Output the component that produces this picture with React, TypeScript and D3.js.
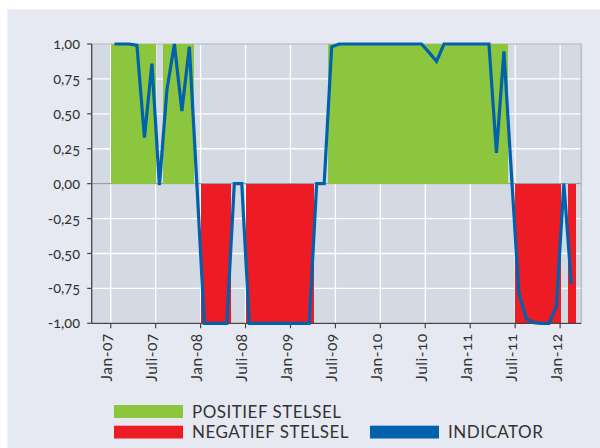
import React from "react";
import * as d3 from "d3";

// Monthly categories Jan-07 .. Feb-12
const months: string[] = [
  "Jan-07","Feb-07","Mrt-07","Apr-07","Mei-07","Jun-07","Jul-07","Aug-07","Sep-07","Okt-07","Nov-07","Dec-07",
  "Jan-08","Feb-08","Mrt-08","Apr-08","Mei-08","Jun-08","Jul-08","Aug-08","Sep-08","Okt-08","Nov-08","Dec-08",
  "Jan-09","Feb-09","Mrt-09","Apr-09","Mei-09","Jun-09","Jul-09","Aug-09","Sep-09","Okt-09","Nov-09","Dec-09",
  "Jan-10","Feb-10","Mrt-10","Apr-10","Mei-10","Jun-10","Jul-10","Aug-10","Sep-10","Okt-10","Nov-10","Dec-10",
  "Jan-11","Feb-11","Mrt-11","Apr-11","Mei-11","Jun-11","Jul-11","Aug-11","Sep-11","Okt-11","Nov-11","Dec-11",
  "Jan-12","Feb-12",
];

const N = null;
// POSITIEF STELSEL (bar value 1 when in positive regime)
const positief: (number | null)[] = [
  1,1,1,1,1,1,N,1,1,1,1,N,
  N,N,N,N,N,N,N,N,N,N,N,N,
  N,N,N,N,N,1,1,1,1,1,1,1,
  1,1,1,1,1,1,1,1,1,1,1,1,
  1,1,1,1,1,N,N,N,N,N,N,N,
  N,N,
];
// NEGATIEF STELSEL (bar value -1 when in negative regime)
const negatief: (number | null)[] = [
  N,N,N,N,N,N,N,N,N,N,N,N,
  -1,-1,-1,-1,N,N,-1,-1,-1,-1,-1,-1,
  -1,-1,-1,N,N,N,N,N,N,N,N,N,
  N,N,N,N,N,N,N,N,N,N,N,N,
  N,N,N,N,N,N,-1,-1,-1,-1,-1,-1,
  N,-1,
];
// INDICATOR
const indicator: number[] = [
  1.0,1.0,1.0,0.99,0.33,0.86,-0.01,0.67,1.0,0.52,0.98,0.0,
  -1.0,-1.0,-1.0,-1.0,0.0,0.0,-1.0,-1.0,-1.0,-1.0,-1.0,-1.0,
  -1.0,-1.0,-1.0,0.0,0.0,0.98,1.0,1.0,1.0,1.0,1.0,1.0,
  1.0,1.0,1.0,1.0,1.0,1.0,0.94,0.876,1.0,1.0,1.0,1.0,
  1.0,1.0,1.0,0.22,0.947,0.07,-0.79,-0.967,-0.995,-1.0,-1.0,-0.88,
  0.0,-0.72,
];

const yTicks: number[] = [1, 0.75, 0.5, 0.25, 0, -0.25, -0.5, -0.75, -1];
const xTickIdx: number[] = [0, 6, 12, 18, 24, 30, 36, 42, 48, 54, 60];
const xTickLabels: string[] = [
  "Jan-07","Juli-07","Jan-08","Juli-08","Jan-09","Juli-09","Jan-10","Juli-10","Jan-11","Juli-11","Jan-12",
];

const legendItems = [
  { label: "POSITIEF STELSEL", color: "#8cc63f" },
  { label: "NEGATIEF STELSEL", color: "#ed1c24" },
  { label: "INDICATOR", color: "#0061ad" },
];

const W = 600, H = 448;
const L = 91.7, R = 581.3, T = 44, B = 323.3;
const FONT = "Lato, 'Open Sans', sans-serif";

export default function App() {
  const x = d3.scaleLinear().domain([-2.54, 62.83]).range([L, R]);
  const y = d3.scaleLinear().domain([-1, 1]).range([B, T]);
  const fmt = (v: number) => d3.format(".2f")(v).replace(".", ",").replace("−", "-");

  const line = d3
    .line<number>()
    .x((_, i) => x(i + 0.5))
    .y((d) => y(d));

  const txt = "#333";

  return (
    <svg
      width={W}
      height={H}
      style={{ position: "absolute", left: 0, top: 0, fontFamily: FONT, fontVariantNumeric: "oldstyle-nums" }}
    >
      <rect x={0} y={0} width={W} height={H} fill="#ffffff" />
      <rect x={7.3} y={9.3} width={W - 7.3} height={H - 9.3} fill="#e6e9f1" />
      {/* plot background */}
      <rect x={L} y={T} width={R - L} height={B - T} fill="#d3dae3" />
      {/* horizontal grid */}
      {yTicks.map((t) => (
        <line key={"gy" + t} x1={L} x2={R} y1={y(t)} y2={y(t)} stroke="#ffffff" strokeWidth={1.3} />
      ))}
      {/* vertical grid */}
      {xTickIdx.map((i) => (
        <line key={"gx" + i} x1={x(i)} x2={x(i)} y1={T} y2={B} stroke="#ffffff" strokeWidth={1.3} />
      ))}
      {/* zero line */}
      <line x1={L} x2={R} y1={y(0)} y2={y(0)} stroke="#9a9ea6" strokeWidth={1.2} />
      {/* plot border top/right */}
      <line x1={L} x2={R} y1={T} y2={T} stroke="#b9bdc5" strokeWidth={1.5} />
      <line x1={R} x2={R} y1={T} y2={B} stroke="#b9bdc5" strokeWidth={1.5} />
      {/* positive bars */}
      <g shapeRendering="crispEdges">
        {positief.map((v, i) =>
          v == null ? null : (
            <rect key={"p" + i} x={x(i)} width={x(i + 1) - x(i) + 0.6} y={y(v)} height={y(0) - y(v) + 0.8} fill="#8cc63f" />
          )
        )}
        {/* negative bars */}
        {negatief.map((v, i) =>
          v == null ? null : (
            <rect key={"n" + i} x={x(i)} width={x(i + 1) - x(i) + 0.6} y={y(0)} height={y(v) - y(0)} fill="#ed1c24" />
          )
        )}
      </g>
      {/* axes */}
      <line x1={L} x2={L} y1={T} y2={B} stroke="#444" strokeWidth={1.3} />
      <line x1={L} x2={R} y1={B} y2={B} stroke="#444" strokeWidth={1.3} />
      {yTicks.map((t) => (
        <g key={"yt" + t}>
          <line x1={L - 4.5} x2={L} y1={y(t)} y2={y(t)} stroke="#444" strokeWidth={1.2} />
          <text x={80} y={y(t)} dy="0.35em" textAnchor="end" fontSize={14.5} fill={txt}>
            {fmt(t)}
          </text>
        </g>
      ))}
      {xTickIdx.map((i, k) => (
        <g key={"xt" + i}>
          <line x1={x(i)} x2={x(i)} y1={B} y2={B + 5} stroke="#444" strokeWidth={1.2} />
          <text
            transform={`translate(${x(i) - 4},${B + 10}) rotate(-90)`}
            textAnchor="end"
            dy="0.35em"
            fontSize={15.5}
            letterSpacing={0.5}
            fill={txt}
          >
            {xTickLabels[k]}
          </text>
        </g>
      ))}
      {/* indicator line */}
      <path d={line(indicator) || ""} fill="none" stroke="#0061ad" strokeWidth={3.2} />
      {/* legend */}
      <g fontSize={17} letterSpacing={0.5} fill={txt}>
        <rect x={114} y={405} width={69} height={13} fill={legendItems[0].color} />
        <text x={192} y={417.5}>{legendItems[0].label}</text>
        <rect x={114} y={425.7} width={69} height={12.8} fill={legendItems[1].color} />
        <text x={192} y={438.3}>{legendItems[1].label}</text>
        <rect x={370} y={425.7} width={69} height={12.8} fill={legendItems[2].color} />
        <text x={448} y={438.3}>{legendItems[2].label}</text>
      </g>
    </svg>
  );
}
